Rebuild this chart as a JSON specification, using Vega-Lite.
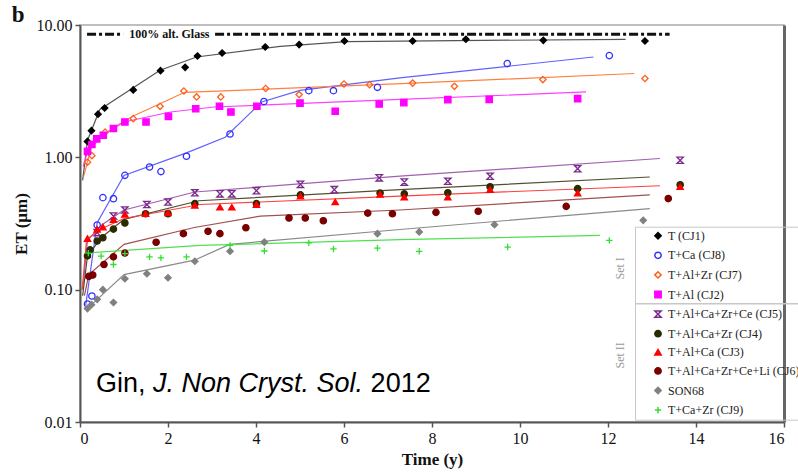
{
"$schema":"https://vega.github.io/schema/vega-lite/v6.json",
"width":704,"height":397,
"autosize":{"type":"none"},
"padding":{"left":80,"top":25,"right":14,"bottom":51},
"background":"white",
"config":{
 "view":{"stroke":"#aaa","strokeWidth":1.5},
 "style":{"guide-label":{"font":"Liberation Serif"}},
 "axis":{"grid":false,"labelFont":"Liberation Serif","labelFontSize":16,"labelColor":"#111","titleFont":"Liberation Serif","titleFontSize":17,"titleFontWeight":"bold","titleColor":"#111","domainColor":"#555","domainWidth":2,"tickColor":"#555","tickWidth":1.5,"tickSize":5},
 "legend":{"labelFont":"Liberation Serif","labelFontSize":12,"labelColor":"#222","rowPadding":5.6,"symbolSize":40,"symbolOffset":14,"labelOffset":4,"padding":3,"strokeColor":"#c8c8c8","title":null}
},
"datasets":{
 "pts":[
  {"s":"T (CJ1)","t":0.17,"v":1.32},{"s":"T (CJ1)","t":0.26,"v":1.59},{"s":"T (CJ1)","t":0.41,"v":2.12},{"s":"T (CJ1)","t":0.56,"v":2.36},{"s":"T (CJ1)","t":1.21,"v":3.23},{"s":"T (CJ1)","t":1.83,"v":4.52},{"s":"T (CJ1)","t":2.39,"v":4.79},{"s":"T (CJ1)","t":2.67,"v":5.83},{"s":"T (CJ1)","t":3.23,"v":6.14},{"s":"T (CJ1)","t":4.21,"v":6.82},{"s":"T (CJ1)","t":4.98,"v":7.11},{"s":"T (CJ1)","t":6.01,"v":7.57},{"s":"T (CJ1)","t":7.56,"v":7.57},{"s":"T (CJ1)","t":8.77,"v":7.8},{"s":"T (CJ1)","t":10.53,"v":7.66},{"s":"T (CJ1)","t":12.84,"v":7.57},
  {"s":"T+Ca (CJ8)","t":0.17,"v":0.078},{"s":"T+Ca (CJ8)","t":0.27,"v":0.0895},{"s":"T+Ca (CJ8)","t":0.39,"v":0.308},{"s":"T+Ca (CJ8)","t":0.52,"v":0.496},{"s":"T+Ca (CJ8)","t":0.76,"v":0.487},{"s":"T+Ca (CJ8)","t":1.02,"v":0.731},{"s":"T+Ca (CJ8)","t":1.58,"v":0.845},{"s":"T+Ca (CJ8)","t":1.84,"v":0.78},{"s":"T+Ca (CJ8)","t":2.42,"v":1.02},{"s":"T+Ca (CJ8)","t":3.41,"v":1.5},{"s":"T+Ca (CJ8)","t":4.18,"v":2.64},{"s":"T+Ca (CJ8)","t":5.2,"v":3.19},{"s":"T+Ca (CJ8)","t":5.76,"v":3.19},{"s":"T+Ca (CJ8)","t":6.76,"v":3.38},{"s":"T+Ca (CJ8)","t":9.71,"v":5.11},{"s":"T+Ca (CJ8)","t":12.03,"v":5.87},
  {"s":"T+Al+Zr (CJ7)","t":0.17,"v":0.92},{"s":"T+Al+Zr (CJ7)","t":0.27,"v":1.03},{"s":"T+Al+Zr (CJ7)","t":0.57,"v":1.55},{"s":"T+Al+Zr (CJ7)","t":1.21,"v":1.96},{"s":"T+Al+Zr (CJ7)","t":1.82,"v":2.43},{"s":"T+Al+Zr (CJ7)","t":2.36,"v":3.17},{"s":"T+Al+Zr (CJ7)","t":2.65,"v":2.86},{"s":"T+Al+Zr (CJ7)","t":3.2,"v":2.86},{"s":"T+Al+Zr (CJ7)","t":4.22,"v":3.31},{"s":"T+Al+Zr (CJ7)","t":4.98,"v":2.98},{"s":"T+Al+Zr (CJ7)","t":6.0,"v":3.58},{"s":"T+Al+Zr (CJ7)","t":6.58,"v":3.54},{"s":"T+Al+Zr (CJ7)","t":7.56,"v":3.64},{"s":"T+Al+Zr (CJ7)","t":8.51,"v":3.44},{"s":"T+Al+Zr (CJ7)","t":10.52,"v":3.87},{"s":"T+Al+Zr (CJ7)","t":12.84,"v":3.94},
  {"s":"T+Al (CJ2)","t":0.17,"v":1.11},{"s":"T+Al (CJ2)","t":0.27,"v":1.25},{"s":"T+Al (CJ2)","t":0.38,"v":1.38},{"s":"T+Al (CJ2)","t":0.53,"v":1.47},{"s":"T+Al (CJ2)","t":0.76,"v":1.65},{"s":"T+Al (CJ2)","t":1.02,"v":1.85},{"s":"T+Al (CJ2)","t":1.5,"v":1.85},{"s":"T+Al (CJ2)","t":2.01,"v":2.04},{"s":"T+Al (CJ2)","t":2.63,"v":2.33},{"s":"T+Al (CJ2)","t":3.17,"v":2.43},{"s":"T+Al (CJ2)","t":3.43,"v":2.2},{"s":"T+Al (CJ2)","t":4.02,"v":2.43},{"s":"T+Al (CJ2)","t":5.0,"v":2.57},{"s":"T+Al (CJ2)","t":5.8,"v":2.23},{"s":"T+Al (CJ2)","t":6.8,"v":2.53},{"s":"T+Al (CJ2)","t":7.36,"v":2.59},{"s":"T+Al (CJ2)","t":8.36,"v":2.73},{"s":"T+Al (CJ2)","t":9.3,"v":2.74},{"s":"T+Al (CJ2)","t":11.31,"v":2.78},
  {"s":"T+Al+Ca+Zr+Ce (CJ5)","t":0.39,"v":0.27},{"s":"T+Al+Ca+Zr+Ce (CJ5)","t":0.76,"v":0.36},{"s":"T+Al+Ca+Zr+Ce (CJ5)","t":1.02,"v":0.4},{"s":"T+Al+Ca+Zr+Ce (CJ5)","t":1.52,"v":0.44},{"s":"T+Al+Ca+Zr+Ce (CJ5)","t":2.0,"v":0.46},{"s":"T+Al+Ca+Zr+Ce (CJ5)","t":2.61,"v":0.54},{"s":"T+Al+Ca+Zr+Ce (CJ5)","t":3.18,"v":0.53},{"s":"T+Al+Ca+Zr+Ce (CJ5)","t":3.45,"v":0.53},{"s":"T+Al+Ca+Zr+Ce (CJ5)","t":4.01,"v":0.56},{"s":"T+Al+Ca+Zr+Ce (CJ5)","t":5.01,"v":0.625},{"s":"T+Al+Ca+Zr+Ce (CJ5)","t":5.78,"v":0.57},{"s":"T+Al+Ca+Zr+Ce (CJ5)","t":6.8,"v":0.7},{"s":"T+Al+Ca+Zr+Ce (CJ5)","t":7.37,"v":0.65},{"s":"T+Al+Ca+Zr+Ce (CJ5)","t":8.36,"v":0.66},{"s":"T+Al+Ca+Zr+Ce (CJ5)","t":9.32,"v":0.72},{"s":"T+Al+Ca+Zr+Ce (CJ5)","t":11.31,"v":0.82},{"s":"T+Al+Ca+Zr+Ce (CJ5)","t":13.64,"v":0.95},
  {"s":"T+Al+Ca+Zr (CJ4)","t":0.17,"v":0.18},{"s":"T+Al+Ca+Zr (CJ4)","t":0.23,"v":0.2},{"s":"T+Al+Ca+Zr (CJ4)","t":0.39,"v":0.233},{"s":"T+Al+Ca+Zr (CJ4)","t":0.52,"v":0.247},{"s":"T+Al+Ca+Zr (CJ4)","t":0.76,"v":0.287},{"s":"T+Al+Ca+Zr (CJ4)","t":1.02,"v":0.319},{"s":"T+Al+Ca+Zr (CJ4)","t":1.49,"v":0.375},{"s":"T+Al+Ca+Zr (CJ4)","t":2.0,"v":0.375},{"s":"T+Al+Ca+Zr (CJ4)","t":2.61,"v":0.447},{"s":"T+Al+Ca+Zr (CJ4)","t":4.01,"v":0.447},{"s":"T+Al+Ca+Zr (CJ4)","t":5.01,"v":0.52},{"s":"T+Al+Ca+Zr (CJ4)","t":6.82,"v":0.537},{"s":"T+Al+Ca+Zr (CJ4)","t":7.37,"v":0.53},{"s":"T+Al+Ca+Zr (CJ4)","t":8.36,"v":0.54},{"s":"T+Al+Ca+Zr (CJ4)","t":9.32,"v":0.6},{"s":"T+Al+Ca+Zr (CJ4)","t":11.31,"v":0.58},{"s":"T+Al+Ca+Zr (CJ4)","t":13.64,"v":0.62},
  {"s":"T+Al+Ca (CJ3)","t":0.17,"v":0.243},{"s":"T+Al+Ca (CJ3)","t":0.39,"v":0.286},{"s":"T+Al+Ca (CJ3)","t":0.52,"v":0.297},{"s":"T+Al+Ca (CJ3)","t":0.76,"v":0.338},{"s":"T+Al+Ca (CJ3)","t":1.02,"v":0.371},{"s":"T+Al+Ca (CJ3)","t":1.49,"v":0.375},{"s":"T+Al+Ca (CJ3)","t":2.0,"v":0.38},{"s":"T+Al+Ca (CJ3)","t":2.61,"v":0.434},{"s":"T+Al+Ca (CJ3)","t":3.18,"v":0.42},{"s":"T+Al+Ca (CJ3)","t":3.45,"v":0.42},{"s":"T+Al+Ca (CJ3)","t":4.01,"v":0.44},{"s":"T+Al+Ca (CJ3)","t":5.01,"v":0.51},{"s":"T+Al+Ca (CJ3)","t":5.8,"v":0.46},{"s":"T+Al+Ca (CJ3)","t":6.82,"v":0.525},{"s":"T+Al+Ca (CJ3)","t":7.37,"v":0.5},{"s":"T+Al+Ca (CJ3)","t":8.36,"v":0.5},{"s":"T+Al+Ca (CJ3)","t":9.32,"v":0.57},{"s":"T+Al+Ca (CJ3)","t":11.31,"v":0.537},{"s":"T+Al+Ca (CJ3)","t":13.64,"v":0.6},
  {"s":"T+Al+Ca+Zr+Ce+Li (CJ6)","t":0.2,"v":0.126},{"s":"T+Al+Ca+Zr+Ce+Li (CJ6)","t":0.29,"v":0.129},{"s":"T+Al+Ca+Zr+Ce+Li (CJ6)","t":0.545,"v":0.155},{"s":"T+Al+Ca+Zr+Ce+Li (CJ6)","t":0.76,"v":0.177},{"s":"T+Al+Ca+Zr+Ce+Li (CJ6)","t":1.02,"v":0.189},{"s":"T+Al+Ca+Zr+Ce+Li (CJ6)","t":1.73,"v":0.228},{"s":"T+Al+Ca+Zr+Ce+Li (CJ6)","t":2.35,"v":0.265},{"s":"T+Al+Ca+Zr+Ce+Li (CJ6)","t":2.91,"v":0.276},{"s":"T+Al+Ca+Zr+Ce+Li (CJ6)","t":3.18,"v":0.265},{"s":"T+Al+Ca+Zr+Ce+Li (CJ6)","t":3.77,"v":0.294},{"s":"T+Al+Ca+Zr+Ce+Li (CJ6)","t":4.75,"v":0.348},{"s":"T+Al+Ca+Zr+Ce+Li (CJ6)","t":5.12,"v":0.348},{"s":"T+Al+Ca+Zr+Ce+Li (CJ6)","t":5.53,"v":0.332},{"s":"T+Al+Ca+Zr+Ce+Li (CJ6)","t":6.54,"v":0.379},{"s":"T+Al+Ca+Zr+Ce+Li (CJ6)","t":7.1,"v":0.375},{"s":"T+Al+Ca+Zr+Ce+Li (CJ6)","t":8.09,"v":0.384},{"s":"T+Al+Ca+Zr+Ce+Li (CJ6)","t":9.05,"v":0.391},{"s":"T+Al+Ca+Zr+Ce+Li (CJ6)","t":11.05,"v":0.426},{"s":"T+Al+Ca+Zr+Ce+Li (CJ6)","t":13.37,"v":0.488},
  {"s":"SON68","t":0.17,"v":0.072},{"s":"SON68","t":0.26,"v":0.077},{"s":"SON68","t":0.39,"v":0.0845},{"s":"SON68","t":0.52,"v":0.1},{"s":"SON68","t":0.76,"v":0.08},{"s":"SON68","t":1.02,"v":0.121},{"s":"SON68","t":1.52,"v":0.132},{"s":"SON68","t":2.0,"v":0.123},{"s":"SON68","t":2.61,"v":0.164},{"s":"SON68","t":3.41,"v":0.195},{"s":"SON68","t":4.19,"v":0.229},{"s":"SON68","t":6.76,"v":0.265},{"s":"SON68","t":7.71,"v":0.273},{"s":"SON68","t":9.42,"v":0.31},{"s":"SON68","t":12.8,"v":0.334},
  {"s":"T+Ca+Zr (CJ9)","t":0.19,"v":0.189},{"s":"T+Ca+Zr (CJ9)","t":0.48,"v":0.179},{"s":"T+Ca+Zr (CJ9)","t":0.76,"v":0.155},{"s":"T+Ca+Zr (CJ9)","t":1.02,"v":0.187},{"s":"T+Ca+Zr (CJ9)","t":1.58,"v":0.177},{"s":"T+Ca+Zr (CJ9)","t":1.84,"v":0.174},{"s":"T+Ca+Zr (CJ9)","t":2.42,"v":0.177},{"s":"T+Ca+Zr (CJ9)","t":3.41,"v":0.216},{"s":"T+Ca+Zr (CJ9)","t":4.19,"v":0.196},{"s":"T+Ca+Zr (CJ9)","t":5.2,"v":0.226},{"s":"T+Ca+Zr (CJ9)","t":5.76,"v":0.203},{"s":"T+Ca+Zr (CJ9)","t":6.76,"v":0.206},{"s":"T+Ca+Zr (CJ9)","t":7.71,"v":0.195},{"s":"T+Ca+Zr (CJ9)","t":9.72,"v":0.21},{"s":"T+Ca+Zr (CJ9)","t":12.03,"v":0.236}
 ],
 "fits":[
  {"s":"T (CJ1)","t":0.06,"v":0.67},{"s":"T (CJ1)","t":0.17,"v":1.34},{"s":"T (CJ1)","t":0.45,"v":2.3},{"s":"T (CJ1)","t":0.6,"v":2.47},{"s":"T (CJ1)","t":1.21,"v":3.36},{"s":"T (CJ1)","t":1.82,"v":4.55},{"s":"T (CJ1)","t":2.65,"v":5.73},{"s":"T (CJ1)","t":4.55,"v":6.9},{"s":"T (CJ1)","t":6.06,"v":7.5},{"s":"T (CJ1)","t":12.4,"v":7.8},
  {"s":"T+Ca (CJ8)","t":0.13,"v":0.076},{"s":"T+Ca (CJ8)","t":0.39,"v":0.32},{"s":"T+Ca (CJ8)","t":1.0,"v":0.73},{"s":"T+Ca (CJ8)","t":2.42,"v":1.08},{"s":"T+Ca (CJ8)","t":3.3,"v":1.42},{"s":"T+Ca (CJ8)","t":4.13,"v":2.62},{"s":"T+Ca (CJ8)","t":5.0,"v":3.21},{"s":"T+Ca (CJ8)","t":7.27,"v":3.98},{"s":"T+Ca (CJ8)","t":11.67,"v":5.73},
  {"s":"T+Al+Zr (CJ7)","t":0.09,"v":0.73},{"s":"T+Al+Zr (CJ7)","t":0.28,"v":1.27},{"s":"T+Al+Zr (CJ7)","t":0.77,"v":1.69},{"s":"T+Al+Zr (CJ7)","t":1.21,"v":2.05},{"s":"T+Al+Zr (CJ7)","t":1.83,"v":2.55},{"s":"T+Al+Zr (CJ7)","t":2.38,"v":3.1},{"s":"T+Al+Zr (CJ7)","t":4.5,"v":3.3},{"s":"T+Al+Zr (CJ7)","t":7.3,"v":3.6},{"s":"T+Al+Zr (CJ7)","t":12.6,"v":4.3},
  {"s":"T+Al (CJ2)","t":0.07,"v":0.85},{"s":"T+Al (CJ2)","t":0.17,"v":1.1},{"s":"T+Al (CJ2)","t":0.5,"v":1.45},{"s":"T+Al (CJ2)","t":1.0,"v":1.85},{"s":"T+Al (CJ2)","t":2.06,"v":2.2},{"s":"T+Al (CJ2)","t":3.05,"v":2.4},{"s":"T+Al (CJ2)","t":7.27,"v":2.74},{"s":"T+Al (CJ2)","t":11.5,"v":3.12},
  {"s":"T+Al+Ca+Zr+Ce (CJ5)","t":0.06,"v":0.1},{"s":"T+Al+Ca+Zr+Ce (CJ5)","t":0.17,"v":0.236},{"s":"T+Al+Ca+Zr+Ce (CJ5)","t":0.5,"v":0.31},{"s":"T+Al+Ca+Zr+Ce (CJ5)","t":1.0,"v":0.4},{"s":"T+Al+Ca+Zr+Ce (CJ5)","t":2.61,"v":0.547},{"s":"T+Al+Ca+Zr+Ce (CJ5)","t":7.27,"v":0.72},{"s":"T+Al+Ca+Zr+Ce (CJ5)","t":13.18,"v":0.98},
  {"s":"T+Al+Ca+Zr (CJ4)","t":0.06,"v":0.09},{"s":"T+Al+Ca+Zr (CJ4)","t":0.17,"v":0.18},{"s":"T+Al+Ca+Zr (CJ4)","t":0.5,"v":0.25},{"s":"T+Al+Ca+Zr (CJ4)","t":1.0,"v":0.34},{"s":"T+Al+Ca+Zr (CJ4)","t":2.7,"v":0.47},{"s":"T+Al+Ca+Zr (CJ4)","t":7.27,"v":0.57},{"s":"T+Al+Ca+Zr (CJ4)","t":12.95,"v":0.71},
  {"s":"T+Al+Ca (CJ3)","t":0.05,"v":0.1},{"s":"T+Al+Ca (CJ3)","t":0.15,"v":0.24},{"s":"T+Al+Ca (CJ3)","t":0.5,"v":0.29},{"s":"T+Al+Ca (CJ3)","t":1.0,"v":0.345},{"s":"T+Al+Ca (CJ3)","t":2.73,"v":0.44},{"s":"T+Al+Ca (CJ3)","t":7.27,"v":0.51},{"s":"T+Al+Ca (CJ3)","t":13.18,"v":0.61},
  {"s":"T+Al+Ca+Zr+Ce+Li (CJ6)","t":0.1,"v":0.09},{"s":"T+Al+Ca+Zr+Ce+Li (CJ6)","t":0.2,"v":0.13},{"s":"T+Al+Ca+Zr+Ce+Li (CJ6)","t":1.0,"v":0.22},{"s":"T+Al+Ca+Zr+Ce+Li (CJ6)","t":2.6,"v":0.295},{"s":"T+Al+Ca+Zr+Ce+Li (CJ6)","t":4.1,"v":0.36},{"s":"T+Al+Ca+Zr+Ce+Li (CJ6)","t":7.27,"v":0.4},{"s":"T+Al+Ca+Zr+Ce+Li (CJ6)","t":12.95,"v":0.52},
  {"s":"SON68","t":0.13,"v":0.07},{"s":"SON68","t":1.0,"v":0.13},{"s":"SON68","t":2.6,"v":0.167},{"s":"SON68","t":3.4,"v":0.22},{"s":"SON68","t":7.27,"v":0.285},{"s":"SON68","t":12.95,"v":0.41},
  {"s":"T+Ca+Zr (CJ9)","t":0.17,"v":0.19},{"s":"T+Ca+Zr (CJ9)","t":2.73,"v":0.216},{"s":"T+Ca+Zr (CJ9)","t":7.27,"v":0.239},{"s":"T+Ca+Zr (CJ9)","t":11.82,"v":0.257}
 ],
 "glass":[{"seg":"a","t":0.16,"v":8.5},{"seg":"a","t":0.98,"v":8.5},{"seg":"b","t":3.07,"v":8.5},{"seg":"b","t":13.4,"v":8.5}]
},
"encoding":{
 "x":{"field":"t","type":"quantitative","scale":{"domain":[0,16],"nice":false},"axis":{"values":[0,2,4,6,8,10,12,14,16],"format":"d","title":"Time (y)","labelPadding":3,"titlePadding":5}},
 "y":{"field":"v","type":"quantitative","scale":{"type":"log","domain":[0.01,10],"nice":false},"axis":null}
},
"layer":[
 {"data":{"name":"fits"},"mark":{"type":"line","strokeWidth":1.2},
  "encoding":{
   "y":{"field":"v","type":"quantitative","scale":{"type":"log","domain":[0.01,10],"nice":false},"axis":{"values":[0.01,0.1,1,10],"format":".2f","title":"ET (µm)","labelPadding":3,"titlePadding":6}},
   "stroke":{"field":"s","type":"nominal","legend":null,"scale":{"domain":["T (CJ1)","T+Ca (CJ8)","T+Al+Zr (CJ7)","T+Al (CJ2)","T+Al+Ca+Zr+Ce (CJ5)","T+Al+Ca+Zr (CJ4)","T+Al+Ca (CJ3)","T+Al+Ca+Zr+Ce+Li (CJ6)","SON68","T+Ca+Zr (CJ9)"],"range":["#555555","#6060ff","#ff8040","#ff40ff","#a060b0","#505030","#ff4040","#a05050","#8a8a8a","#50e050"]}},"detail":{"field":"s"}}},
 {"data":{"name":"glass"},"mark":{"type":"line","color":"#111","strokeWidth":3,"strokeDash":[9,3,3,3]},
  "encoding":{
   "y":{"field":"v","type":"quantitative","scale":{"type":"log","domain":[0.01,10],"nice":false},"axis":{"orient":"right","labels":false,"ticks":false,"title":null,"domainColor":"#666","domainWidth":3}},
   "detail":{"field":"seg"}}},
 {"data":{"values":[{"t":2.03,"v":8.5,"label":"100% alt. Glass"}]},"mark":{"type":"text","font":"Liberation Serif","fontSize":12,"fontWeight":"bold","color":"#111","align":"center","baseline":"middle"},"encoding":{"text":{"field":"label"}}},
 {"data":{"values":[{"t":-1.55,"v":10.5,"label":"b"}]},"mark":{"type":"text","font":"Liberation Serif","fontSize":23,"fontWeight":"bold","color":"#111","align":"left","baseline":"alphabetic"},"encoding":{"text":{"field":"label"}}},
 {"data":{"values":[{"t":12.64,"t2":16.6,"v":0.0784}]},"mark":{"type":"rule","color":"#c8c8c8","strokeWidth":1.5},"encoding":{"x2":{"field":"t2"}}},
 {"data":{"name":"pts"},"mark":{"type":"point","filled":true,"size":40,"strokeWidth":1.3,"opacity":1},
  "encoding":{
   "shape":{"field":"s","type":"nominal","scale":{"domain":["T (CJ1)","T+Ca (CJ8)","T+Al+Zr (CJ7)","T+Al (CJ2)","T+Al+Ca+Zr+Ce (CJ5)","T+Al+Ca+Zr (CJ4)","T+Al+Ca (CJ3)","T+Al+Ca+Zr+Ce+Li (CJ6)","SON68","T+Ca+Zr (CJ9)"],"range":["diamond","circle","diamond","square","M-1,-1H1L-1,1H1Z","circle","triangle-up","circle","diamond","M-1,0H1M0,-1V1"]},"legend":{"orient":"none","legendX":555,"legendY":201.7,"labelFont":"Liberation Serif"}},
   "fill":{"field":"s","type":"nominal","scale":{"domain":["T (CJ1)","T+Ca (CJ8)","T+Al+Zr (CJ7)","T+Al (CJ2)","T+Al+Ca+Zr+Ce (CJ5)","T+Al+Ca+Zr (CJ4)","T+Al+Ca (CJ3)","T+Al+Ca+Zr+Ce+Li (CJ6)","SON68","T+Ca+Zr (CJ9)"],"range":["#000000","transparent","transparent","#ff00ff","transparent","#2b2b00","#ff0000","#7a0000","#808080","transparent"]},"legend":{"orient":"none","legendX":555,"legendY":201.7,"labelFont":"Liberation Serif"}},
   "stroke":{"field":"s","type":"nominal","scale":{"domain":["T (CJ1)","T+Ca (CJ8)","T+Al+Zr (CJ7)","T+Al (CJ2)","T+Al+Ca+Zr+Ce (CJ5)","T+Al+Ca+Zr (CJ4)","T+Al+Ca (CJ3)","T+Al+Ca+Zr+Ce+Li (CJ6)","SON68","T+Ca+Zr (CJ9)"],"range":["#000000","#3030ff","#ff6020","#ff00ff","#7a2a8a","#2b2b00","#ff0000","#7a0000","#808080","#30e030"]},"legend":{"orient":"none","legendX":555,"legendY":201.7,"labelFont":"Liberation Serif"}}
  }},
 {"data":{"values":[{"t":12.27,"v":0.145,"label":"Set I"},{"t":12.27,"v":0.0319,"label":"Set II"}]},"mark":{"type":"text","angle":270,"font":"Liberation Serif","fontSize":12,"color":"#999","align":"center","baseline":"middle"},"encoding":{"text":{"field":"label"}}},
 {"data":{"values":[{"t":0.3636,"v":0.01674,"label":"Gin,"},{"t":6.605,"v":0.01674,"label":"2012"}]},"mark":{"type":"text","font":"Liberation Sans","fontSize":27,"color":"#000","align":"left","baseline":"alphabetic"},"encoding":{"text":{"field":"label"}}},
 {"data":{"values":[{"t":1.659,"v":0.01674,"label":"J. Non Cryst. Sol."}]},"mark":{"type":"text","font":"Liberation Sans","fontSize":27,"fontStyle":"italic","color":"#000","align":"left","baseline":"alphabetic"},"encoding":{"text":{"field":"label"}}}
],
"resolve":{"scale":{"stroke":"independent","fill":"independent","shape":"independent"},"axis":{"y":"independent"}}
}
